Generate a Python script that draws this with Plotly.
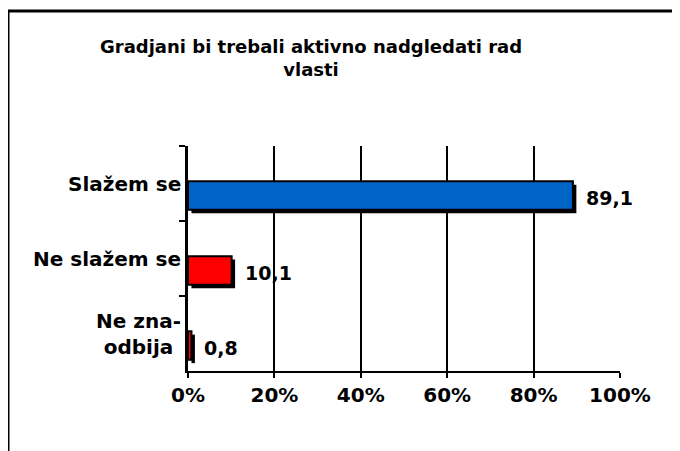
import plotly.graph_objects as go

title_lines = ["Gradjani bi trebali aktivno nadgledati rad", "vlasti"]
categories = ["Slažem se", "Ne slažem se", "Ne zna-<br>odbija"]
values = [89.1, 10.1, 0.8]
colors = ["#0063C6", "#FF0000", "#FF0000"]
x_ticks = [0, 20, 40, 60, 80, 100]
x_tick_labels = ["0%", "20%", "40%", "60%", "80%", "100%"]

FONT = "DejaVu Sans"
BAR_W = 0.38
BAR_OFF = -0.03

# plot area in figure pixels
L, R, T, B = 180, 68, 138, 88
W, H = 680, 451
PW, PH = W - L - R, H - T - B


def px(x):
    return (x - L) / PW


def py(y):
    return (H - B - y) / PH


fig = go.Figure()

# shadow
fig.add_trace(go.Bar(
    y=categories, x=values, base=0.8, orientation="h",
    width=BAR_W, offset=BAR_OFF + 0.045,
    marker=dict(color="black", line=dict(width=0)),
    hoverinfo="skip", showlegend=False,
))
# main bars
fig.add_trace(go.Bar(
    y=categories, x=values, orientation="h",
    width=BAR_W, offset=BAR_OFF,
    marker=dict(color=colors, line=dict(color="black", width=2)),
    showlegend=False,
))

annotations = []
for i, (c, v) in enumerate(zip(categories, values)):
    annotations.append(dict(
        x=v, y=i + BAR_OFF + BAR_W / 2, xref="x", yref="y",
        text=f"{v:.1f}".replace(".", ","), showarrow=False,
        xanchor="left", yanchor="middle", xshift=11, yshift=-2,
        font=dict(family=FONT, size=19, color="black", weight="bold"),
    ))
    annotations.append(dict(
        x=0, y=i, xref="paper", yref="y",
        text=c, showarrow=False, align="center",
        xanchor="right", yanchor="middle", xshift=-5, yshift=0,
        font=dict(family=FONT, size=20, color="black", weight="bold"),
    ))

annotations.append(dict(
    x=px(303), y=py(50), xref="paper", yref="paper",
    text="<br>".join(title_lines), showarrow=False,
    xanchor="center", yanchor="middle",
    font=dict(family=FONT, size=18, color="black", weight="bold"),
))

fig.update_layout(
    width=W, height=H,
    margin=dict(l=L, r=R, t=T, b=B),
    paper_bgcolor="white", plot_bgcolor="white",
    barmode="overlay",
    annotations=annotations,
    xaxis=dict(
        range=[0, 100], tickvals=x_ticks, ticktext=x_tick_labels,
        showgrid=True, gridcolor="black", gridwidth=2,
        showline=True, linecolor="black", linewidth=2,
        ticks="outside", ticklen=5, tickwidth=2, tickcolor="black",
        tickfont=dict(family=FONT, size=20, color="black", weight="bold"),
        zeroline=False, fixedrange=True,
    ),
    yaxis=dict(
        categoryorder="array", categoryarray=categories,
        autorange="reversed", showticklabels=False,
        showline=True, linecolor="black", linewidth=3,
        ticks="outside", ticklen=6, tickwidth=2, tickcolor="black",
        tickson="boundaries", showgrid=False, zeroline=False,
    ),
    shapes=[
        dict(type="line", xref="paper", yref="paper",
             x0=px(-1), x1=px(W + 20), y0=py(3), y1=py(3),
             line=dict(color="black", width=3)),
        dict(type="line", xref="paper", yref="paper",
             x0=px(0), x1=px(0), y0=py(2), y1=py(H + 10),
             line=dict(color="black", width=3)),
    ],
)
fig.write_html("out.html")
